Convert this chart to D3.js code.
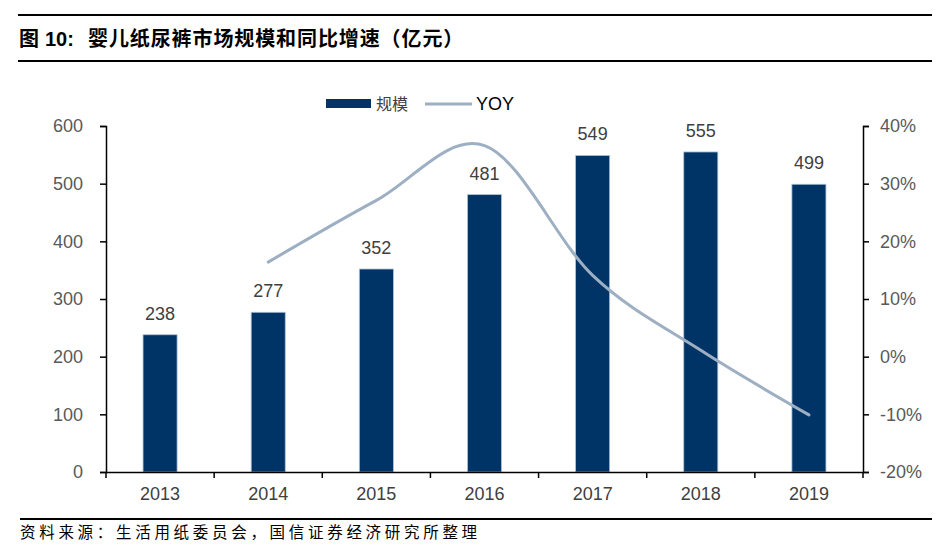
<!DOCTYPE html>
<html><head><meta charset="utf-8">
<script src="https://cdn.jsdelivr.net/npm/d3@7"></script>
<style>
html,body{margin:0;padding:0;background:#fff;}
svg{display:block;}
</style></head>
<body>
<svg id="c" width="950" height="547"></svg>
<script>
const years = ["2013","2014","2015","2016","2017","2018","2019"];
const scaleValues = [238, 277, 352, 481, 549, 555, 499];
const yoyValues = [null, 0.164, 0.271, 0.366, 0.141, 0.011, -0.101];
const leftTicks = [0,100,200,300,400,500,600];
const rightTicks = [-0.2,-0.1,0,0.1,0.2,0.3,0.4];
const titleText = "婴儿纸尿裤市场规模和同比增速（亿元）";
const sourceText = "资料来源：生活用纸委员会，国信证券经济研究所整理";
const legendNames = ["规模","YOY"];

const svg = d3.select("#c");
const latin = "'Liberation Sans', Arial, sans-serif";
const cjk = "'Noto Sans CJK SC', sans-serif";
const barColor = "#003366";
const lineColor = "#9dafc2";

// frame lines
svg.append("line").attr("x1",18).attr("x2",932).attr("y1",15).attr("y2",15).attr("stroke","#000").attr("stroke-width",2);
svg.append("line").attr("x1",18).attr("x2",932).attr("y1",61).attr("y2",61).attr("stroke","#000").attr("stroke-width",2);
svg.append("line").attr("x1",20).attr("x2",932).attr("y1",519).attr("y2",519).attr("stroke","#000").attr("stroke-width",2);

// title
const t = svg.append("text").attr("x",19).attr("y",46).attr("font-size",20).attr("font-weight","bold").attr("fill","#000");
t.append("tspan").attr("font-family",cjk).text("图");
t.append("tspan").attr("font-family",latin).attr("dx",6).text("10:");
t.append("tspan").attr("font-family",cjk).attr("x",88).attr("letter-spacing",0.9).text(titleText);

// source
svg.append("text").attr("x",20).attr("y",538).attr("font-size",15.5).attr("font-family",cjk)
  .attr("letter-spacing",3.7).attr("fill","#000").text(sourceText);

// scales
const x = d3.scaleBand().domain(years).range([106,863]).paddingInner(0.685).paddingOuter(0.3425);
const yL = d3.scaleLinear().domain([0,600]).range([472,126]);
const yR = d3.scaleLinear().domain([-0.2,0.4]).range([472,126]);

// bars
svg.append("g").selectAll("rect").data(years).join("rect")
  .attr("x",d=>x(d)).attr("width",x.bandwidth())
  .attr("y",(d,i)=>yL(scaleValues[i])).attr("height",(d,i)=>yL(0)-yL(scaleValues[i]))
  .attr("fill",barColor).attr("stroke","#b4c2d2").attr("stroke-width",0.8);

// data labels
svg.append("g").selectAll("text").data(years).join("text")
  .attr("x",d=>x(d)+x.bandwidth()/2).attr("y",(d,i)=>yL(scaleValues[i])-15)
  .attr("text-anchor","middle").attr("font-family",latin).attr("font-size",18).attr("fill","#404040")
  .text((d,i)=>scaleValues[i]);

// axes
const axisStyle = g => {
  g.selectAll(".domain").attr("stroke","#000").attr("stroke-width",1.5);
  g.selectAll(".tick line").attr("stroke","#000").attr("stroke-width",1.5);
  g.selectAll(".tick text").attr("font-family",latin).attr("font-size",18).attr("fill","#595959");
};
const pct = d => Math.round(d*100) + "%";
const gL = svg.append("g").attr("transform","translate(106,0)")
  .call(d3.axisLeft(yL).tickValues(leftTicks).tickSize(6).tickSizeOuter(6).tickPadding(17));
axisStyle(gL);
const gR = svg.append("g").attr("transform","translate(863,0)")
  .call(d3.axisRight(yR).tickValues(rightTicks).tickFormat(pct).tickSize(6).tickSizeOuter(6).tickPadding(11));
axisStyle(gR);
const gX = svg.append("g").attr("transform","translate(0,472)")
  .call(d3.axisBottom(x).tickSize(0).tickPadding(15));
axisStyle(gX);
gX.selectAll(".tick text").attr("fill","#404040");
// category boundary ticks
const bounds = d3.range(years.length+1).map(i => 106 + i*x.step());
svg.append("g").selectAll("line").data(bounds).join("line")
  .attr("x1",d=>d).attr("x2",d=>d).attr("y1",472).attr("y2",478)
  .attr("stroke","#000").attr("stroke-width",1.5);

// YOY line
const pts = years.map((y,i)=>[x(y)+x.bandwidth()/2, yoyValues[i]]).filter(p=>p[1]!==null);
svg.append("path").datum(pts)
  .attr("d", d3.line().x(p=>p[0]).y(p=>yR(p[1])).curve(d3.curveCardinal.tension(0)))
  .attr("fill","none").attr("stroke",lineColor).attr("stroke-width",3).attr("stroke-linecap","round");

// legend
svg.append("rect").attr("x",326).attr("y",99).attr("width",45).attr("height",9).attr("fill",barColor);
svg.append("text").attr("x",376).attr("y",110).attr("font-family",cjk).attr("font-size",16).attr("fill","#404040").text(legendNames[0]);
svg.append("line").attr("x1",425).attr("x2",472).attr("y1",104).attr("y2",104).attr("stroke",lineColor).attr("stroke-width",3);
svg.append("text").attr("x",476).attr("y",110).attr("font-family",latin).attr("font-size",18).attr("fill","#000").text(legendNames[1]);
</script>
</body></html>
